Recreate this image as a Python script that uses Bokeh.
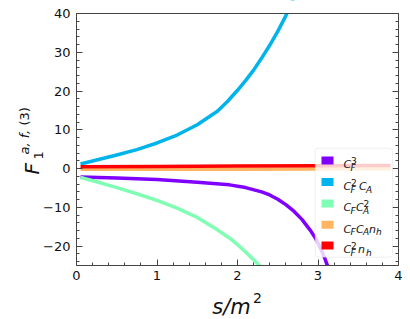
import math
from bokeh.plotting import figure
from bokeh.models import Range1d, FixedTicker, LinearAxis, Label, BoxAnnotation
from bokeh.embed import file_html
from bokeh.resources import INLINE

# ---- data ----
s_cf3 = [0.05, 0.5, 1.0, 1.5, 1.9, 2.1, 2.3, 2.4, 2.5, 2.6, 2.7, 2.8, 2.9, 2.97, 3.03, 3.08, 3.14]
v_cf3 = [-2.2, -2.4, -2.8, -3.5, -4.2, -4.9, -6.0, -6.8, -7.9, -9.3, -11.0, -13.1, -15.8, -18.0, -20.5, -22.9, -26.3]

s_cf2ca = [0.05, 0.25, 0.5, 0.75, 1.0, 1.25, 1.5, 1.75, 1.875, 2.0, 2.1, 2.2, 2.3, 2.4, 2.5, 2.6, 2.7]
v_cf2ca = [1.2, 2.2, 3.5, 4.9, 6.6, 8.65, 11.3, 14.8, 17.3, 20.2, 22.7, 25.4, 28.5, 31.8, 35.4, 39.4, 44.0]

s_cfca2 = [0.05, 0.25, 0.5, 0.75, 1.0, 1.25, 1.5, 1.75, 1.9, 2.0, 2.1, 2.2, 2.3, 2.35]
v_cfca2 = [-2.3, -3.4, -4.9, -6.5, -8.2, -10.2, -12.6, -15.8, -17.9, -19.6, -21.5, -23.5, -25.6, -26.8]

s_cfcanh = [0.05, 1.0, 2.0, 3.0, 3.9]
v_cfcanh = [-0.2, -0.2, -0.15, -0.1, -0.05]

s_cf2nh = [0.05, 1.0, 2.0, 3.0, 3.9]
v_cf2nh = [0.5, 0.55, 0.65, 0.75, 0.8]

x_ticks = [0, 1, 2, 3, 4]
y_ticks = [-20, -10, 0, 10, 20, 30, 40]
x_lim = (0, 4)
y_lim = (-25, 40)

series = [
    (s_cf3, v_cf3, "#8000ff"),
    (s_cf2ca, v_cf2ca, "#00b4eb"),
    (s_cfca2, v_cfca2, "#80ffb4"),
    (s_cfcanh, v_cfcanh, "#ffb462"),
    (s_cf2nh, v_cf2nh, "#ff0000"),
]

# legend labels as (text, kind, x-position in px) ; kind: b=base, sub, sup
legend_labels = [
    [("C", "b", 343), ("F", "sub", 350), ("3", "sup", 350.5)],
    [("C", "b", 343), ("F", "sub", 350), ("2", "sup", 350.5), ("C", "b", 358.5), ("A", "sub", 365.5)],
    [("C", "b", 343), ("F", "sub", 350), ("C", "b", 355.5), ("A", "sub", 362.5), ("2", "sup", 363)],
    [("C", "b", 343), ("F", "sub", 350), ("C", "b", 355.5), ("A", "sub", 362.5), ("n", "b", 368.5), ("h", "sub", 375.5)],
    [("C", "b", 343), ("F", "sub", 350), ("2", "sup", 350.5), ("n", "b", 357.5), ("h", "sub", 365.5)],
]

W, H = 410, 319
# plot box on the canvas: x 76..398, y 13..265 (px)
PL, PR, PT, PB = 76, 398, 13, 265

def X(px):
    return x_lim[0] + (px - PL) * (x_lim[1] - x_lim[0]) / (PR - PL)

def Y(py):
    return y_lim[1] - (py - PT) * (y_lim[1] - y_lim[0]) / (PB - PT)

p = figure(width=W, height=H, output_backend="svg", toolbar_location=None,
           x_range=Range1d(X(0), X(W)), y_range=Range1d(Y(H), Y(0)),
           min_border=0, x_axis_location=None, y_axis_location=None)
p.grid.visible = False
p.outline_line_color = None
p.background_fill_color = "white"
p.border_fill_color = "white"

xt = FixedTicker(ticks=x_ticks, minor_ticks=[i * 0.2 for i in range(0, 21)])
yt = FixedTicker(ticks=y_ticks, minor_ticks=list(range(-24, 41, 2)))

AX = "#444444"

def make_axis(ticker, loc, bounds, labels=True, ticks=True):
    ax = LinearAxis(ticker=ticker, fixed_location=loc, bounds=bounds)
    ax.axis_line_color = AX
    ax.major_tick_in = 6 if ticks else 0
    ax.major_tick_out = 0
    ax.minor_tick_in = 3 if ticks else 0
    ax.minor_tick_out = 0
    ax.major_tick_line_color = AX if ticks else None
    ax.minor_tick_line_color = AX if ticks else None
    ax.major_label_text_font = "DejaVu Sans"
    ax.major_label_text_font_size = "13px"
    ax.major_label_text_color = "#111111" if labels else None
    return ax

bax = make_axis(xt, y_lim[0], x_lim)
bax.major_label_standoff = 5
lax = make_axis(yt, x_lim[0], y_lim)
lax.major_label_standoff = 6
lax.major_label_overrides = {t: (("\u2212" + str(-t)) if t < 0 else str(t)) for t in y_ticks}
rax = make_axis(yt, x_lim[1], y_lim, labels=False)
rax.major_label_overrides = {t: "" for t in y_ticks}
tax = make_axis(xt, y_lim[1], x_lim, labels=False, ticks=False)
tax.major_label_overrides = {t: "" for t in x_ticks}
p.add_layout(bax, "below")
p.add_layout(lax, "left")
p.add_layout(rax, "right")
p.add_layout(tax, "above")

for sx, sy, c in series:
    r = p.line(sx, sy, line_color=c, line_width=3.5, line_join="round")
    r.level = "image"

# white masks outside the plot box (below the axes, above the curves)
for kw in (dict(bottom=y_lim[1]), dict(top=y_lim[0]), dict(right=x_lim[0]), dict(left=x_lim[1])):
    p.add_layout(BoxAnnotation(fill_color="white", fill_alpha=1, line_color=None,
                               level="underlay", **kw))

FONT = "DejaVu Sans"
TC = "#111111"

def lab(px, py, text, size, style="normal", angle=0.0):
    p.add_layout(Label(x=X(px), y=Y(py), text=text, text_font=FONT, text_font_style=style,
                       text_font_size=size, text_baseline="alphabetic", text_align="left",
                       text_color=TC, angle=angle))

# x axis label  s/m^2
lab(211.7, 306.7, "s/m", "21px", "italic")
lab(252.5, 297.3, "2", "14px")

# y axis label  F_1^{a,f,(3)}
ang = math.pi / 2
lab(31, 174, "F", "20px", "italic", ang)
lab(38, 159, "1", "13px", "normal", ang)
lab(24, 154, "a, f, ", "13px", "italic", ang)
lab(24, 125, "(3)", "13px", "normal", ang)

# legend
p.add_layout(BoxAnnotation(left=X(314.7), right=X(392), top=Y(147.7), bottom=Y(256.7),
                           fill_color="white", fill_alpha=0.8, line_color="#cccccc", line_width=1,
                           border_radius=3))
row_centers = [160, 181.5, 203, 224.2, 245]
for (sx, sy, c), segs, cy in zip(series, legend_labels, row_centers):
    p.add_layout(BoxAnnotation(left=X(321), right=X(333), top=Y(cy - 4), bottom=Y(cy + 4),
                               fill_color=c, fill_alpha=1, line_color=None))
    base = cy + 4.3
    for txt, kind, px in segs:
        if kind == "b":
            lab(px, base, txt, "11px", "italic")
        elif kind == "sub":
            lab(px, base + 3.3, txt, "9px", "italic")
        else:
            lab(px, base - 4.3, txt, "9px", "normal")

open("out.html", "w").write(file_html(p, INLINE))
